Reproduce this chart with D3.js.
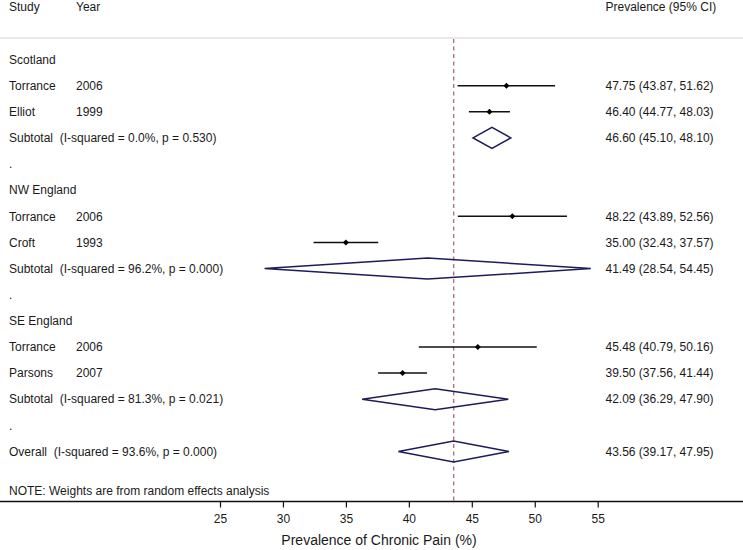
<!DOCTYPE html>
<html>
<head>
<meta charset="utf-8">
<script src="https://cdn.jsdelivr.net/npm/d3@7"></script>
<style>
  html, body { margin: 0; padding: 0; background: #fff; }
  svg { display: block; font-family: "Liberation Sans", Arial, Helvetica, sans-serif; }
  svg text { white-space: pre; }
</style>
</head>
<body>
<div id="chart"></div>
<script>
// ---- data ----
const rowLabels = [
  "Scotland", "Torrance", "Elliot", "Subtotal  (I-squared = 0.0%, p = 0.530)", ".",
  "NW England", "Torrance", "Croft", "Subtotal  (I-squared = 96.2%, p = 0.000)", ".",
  "SE England", "Torrance", "Parsons", "Subtotal  (I-squared = 81.3%, p = 0.021)", ".",
  "Overall  (I-squared = 93.6%, p = 0.000)"
];
const rowYears = ["", "2006", "1999", "", "", "", "2006", "1993", "", "", "", "2006", "2007", "", "", ""];
const rowTypes = ["group", "study", "study", "pooled", "blank",
                  "group", "study", "study", "pooled", "blank",
                  "group", "study", "study", "pooled", "blank",
                  "pooled"];
const estimates = [null, 47.75, 46.40, 46.60, null, null, 48.22, 35.00, 41.49, null, null, 45.48, 39.50, 42.09, null, 43.56];
const lowerCI   = [null, 43.87, 44.77, 45.10, null, null, 43.89, 32.43, 28.54, null, null, 40.79, 37.56, 36.29, null, 39.17];
const upperCI   = [null, 51.62, 48.03, 48.10, null, null, 52.56, 37.57, 54.45, null, null, 50.16, 41.44, 47.90, null, 47.95];
const overallEstimate = 43.56;
const xTicks = [25, 30, 35, 40, 45, 50, 55];
const headerLabels = ["Study", "Year", "Prevalence (95% CI)"];
const noteText = "NOTE: Weights are from random effects analysis";
const axisTitle = "Prevalence of Chronic Pain (%)";

// ---- layout ----
const W = 743, H = 550;
const svg = d3.select("#chart").append("svg").attr("width", W).attr("height", H);

const x = d3.scaleLinear().domain([25, 55]).range([220, 597.7]);
const y = d3.scaleLinear().domain([0, rowLabels.length - 1]).range([59.5, 451.5]);
const axisY = 501.5;
const fmt = d3.format(".2f");
const textColor = "#1a1a1a";
const navy = "#1c1c5a";

// header
svg.append("text").attr("x", 9).attr("y", 10.5).attr("font-size", 12).attr("fill", textColor).text(headerLabels[0]);
svg.append("text").attr("x", 76).attr("y", 10.5).attr("font-size", 12).attr("fill", textColor).text(headerLabels[1]);
svg.append("text").attr("x", 605.5).attr("y", 10.5).attr("font-size", 12).attr("fill", textColor).text(headerLabels[2]);
svg.append("line").attr("x1", 0).attr("x2", W).attr("y1", 38).attr("y2", 38)
  .attr("stroke", "#e0e0e0").attr("stroke-width", 1.5);

// reference dashed line
svg.append("line")
  .attr("x1", x(overallEstimate)).attr("x2", x(overallEstimate))
  .attr("y1", 39).attr("y2", axisY)
  .attr("stroke", "#a8747e").attr("stroke-width", 1.4)
  .attr("stroke-dasharray", "4,3.5");

const idx = d3.range(rowLabels.length);

// left labels
svg.append("g").selectAll("text.lab").data(idx).join("text")
  .attr("x", 9).attr("y", i => y(i)).attr("dy", "0.35em")
  .attr("font-size", 12).attr("fill", textColor)
  .text(i => rowLabels[i]);

svg.append("g").selectAll("text.yr").data(idx.filter(i => rowYears[i])).join("text")
  .attr("x", 76).attr("y", i => y(i)).attr("dy", "0.35em")
  .attr("font-size", 12).attr("fill", textColor)
  .text(i => rowYears[i]);

// right CI labels
svg.append("g").selectAll("text.ci").data(idx.filter(i => estimates[i] != null)).join("text")
  .attr("x", 605.5).attr("y", i => y(i)).attr("dy", "0.35em")
  .attr("font-size", 12).attr("fill", textColor)
  .text(i => `${fmt(estimates[i])} (${fmt(lowerCI[i])}, ${fmt(upperCI[i])})`);

// study CI lines and point markers
const studies = idx.filter(i => rowTypes[i] === "study");
svg.append("g").selectAll("line").data(studies).join("line")
  .attr("x1", i => x(lowerCI[i])).attr("x2", i => x(upperCI[i]))
  .attr("y1", i => y(i)).attr("y2", i => y(i))
  .attr("stroke", "#111").attr("stroke-width", 1.5);
svg.append("g").selectAll("path").data(studies).join("path")
  .attr("d", i => {
    const cx = x(estimates[i]), cy = y(i), r = 3;
    return `M${cx},${cy - r}L${cx + r},${cy}L${cx},${cy + r}L${cx - r},${cy}Z`;
  })
  .attr("fill", "#000");

// pooled diamonds
const pooled = idx.filter(i => rowTypes[i] === "pooled");
svg.append("g").selectAll("path").data(pooled).join("path")
  .attr("d", i => {
    const cy = y(i), h = 10.5;
    return `M${x(lowerCI[i])},${cy}L${x(estimates[i])},${cy - h}L${x(upperCI[i])},${cy}L${x(estimates[i])},${cy + h}Z`;
  })
  .attr("fill", "none").attr("stroke", navy).attr("stroke-width", 1.5)
  .attr("stroke-linejoin", "miter");

// note
svg.append("text").attr("x", 9).attr("y", 494.5).attr("font-size", 12).attr("fill", textColor).text(noteText);

// axis
const axisG = svg.append("g").attr("transform", `translate(0,${axisY})`)
  .call(d3.axisBottom(x).tickValues(xTicks).tickSize(6).tickPadding(7));
axisG.select(".domain").remove();
axisG.selectAll(".tick line").attr("stroke", "#111").attr("stroke-width", 1.2);
axisG.selectAll(".tick text").attr("font-size", 12).attr("fill", textColor)
  .attr("font-family", "Liberation Sans, Arial, sans-serif");
svg.append("line").attr("x1", 0).attr("x2", W).attr("y1", axisY).attr("y2", axisY)
  .attr("stroke", "#111").attr("stroke-width", 1.3);

svg.append("text").attr("x", 379).attr("y", 545).attr("text-anchor", "middle")
  .attr("font-size", 14).attr("fill", textColor).text(axisTitle);
</script>
</body>
</html>
